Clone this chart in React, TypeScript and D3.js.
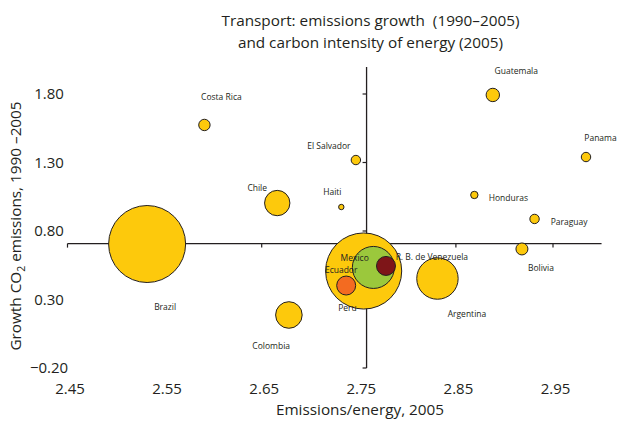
import React from "react";
import * as d3 from "d3";

const countries = ["Brazil", "Mexico", "Argentina", "R. B. de Venezuela", "Colombia", "Chile", "Ecuador", "Peru", "Guatemala", "Bolivia", "Costa Rica", "El Salvador", "Panama", "Paraguay", "Honduras", "Haiti"];
const intensity = [2.532, 2.755, 2.831, 2.765, 2.678, 2.666, 2.737, 2.778, 2.888, 2.918, 2.591, 2.747, 2.984, 2.931, 2.869, 2.732];
const growth = [0.705, 0.508, 0.453, 0.534, 0.187, 1.004, 0.402, 0.545, 1.793, 0.669, 1.574, 1.318, 1.34, 0.888, 1.063, 0.975];
const emissions = [130, 127, 37.6, 38.7, 15.5, 14.1, 7.9, 7.9, 3.94, 3.16, 2.85, 1.94, 1.94, 1.94, 1.2, 0.64];
const xTicks = [2.45, 2.55, 2.65, 2.75, 2.85, 2.95];
const yTicks = [1.8, 1.3, 0.8, 0.3, -0.2];
const crossX = 2.758;
const crossY = 0.708;

const fills: Record<string, string> = {
  "R. B. de Venezuela": "#9BC83C",
  Peru: "#7E1518",
  Ecuador: "#F36B21",
};
const yellow = "#FDC90C";

// label offsets in pixels relative to bubble centre (layout only)
const labelOffset: Record<string, [number, number]> = {
  Brazil: [18, 63],
  Mexico: [-9, -12.5],
  Argentina: [29.5, 35],
  "R. B. de Venezuela": [58.5, -10.5],
  Colombia: [-17.7, 31],
  Chile: [-20, -15],
  Ecuador: [-5, -16],
  Peru: [-38.5, 42],
  Guatemala: [23.5, -24],
  Bolivia: [19, 19],
  "Costa Rica": [17, -28],
  "El Salvador": [-27, -14],
  Panama: [14.5, -18.7],
  Paraguay: [34.5, 3.3],
  Honduras: [34, 2.7],
  Haiti: [-9, -15],
};

const W = 629;
const H = 422;
const font = "'Open Sans', 'Noto Sans', sans-serif";
const ink = "#231F20";

export default function App() {
  const x = d3.scaleLinear().domain([2.45, 2.95]).range([67.5, 553]);
  const y = d3.scaleLinear().domain([-0.2, 1.8]).range([368, 94]);
  const r = d3.scaleSqrt().domain([0, 130]).range([0, 38.5]);

  const idx = d3.range(countries.length).sort((a, b) => emissions[b] - emissions[a]);
  const xEnd = 3.0;
  const yTop = 1.997;

  return (
    <svg width={W} height={H} style={{ position: "absolute", left: 0, top: 0, background: "#fff" }} fontFamily={font}>
      <text x={370.5} y={26} textAnchor="middle" fontSize={15.3} fill={ink} style={{ whiteSpace: "pre" }}>
        Transport: emissions growth  (1990–2005)
      </text>
      <text x={370.5} y={48} textAnchor="middle" fontSize={15.3} fill={ink}>
        and carbon intensity of energy (2005)
      </text>

      {/* cross axes */}
      <line x1={x(2.45)} x2={x(xEnd)} y1={y(crossY)} y2={y(crossY)} stroke={ink} strokeWidth={1.3} />
      {xTicks.map((t) => (
        <line key={"xt" + t} x1={x(t)} x2={x(t)} y1={y(crossY)} y2={y(crossY) + 4} stroke={ink} strokeWidth={1.2} />
      ))}
      <line x1={x(crossX)} x2={x(crossX)} y1={y(yTop)} y2={y(-0.2)} stroke={ink} strokeWidth={1.3} />
      {yTicks.map((t) => (
        <line key={"yt" + t} x1={x(crossX) - 4} x2={x(crossX)} y1={y(t)} y2={y(t)} stroke={ink} strokeWidth={1.2} />
      ))}

      {/* tick labels */}
      {yTicks.map((t) => (
        <text key={"yl" + t} x={49} y={y(t)} dy="0.35em" textAnchor="middle" fontSize={15} fill={ink}>
          {t < 0 ? "−" + Math.abs(t).toFixed(2) : t.toFixed(2)}
        </text>
      ))}
      {xTicks.map((t) => (
        <text key={"xl" + t} x={x(t) + 2.5} y={388.5} dy="0.35em" textAnchor="middle" fontSize={15} fill={ink}>
          {t.toFixed(2)}
        </text>
      ))}
      <text x={360} y={410} dy="0.35em" textAnchor="middle" fontSize={15.3} fill={ink}>
        Emissions/energy, 2005
      </text>
      <text transform={`translate(16,${226}) rotate(-90)`} textAnchor="middle" dy="0.35em" fontSize={15.3} fill={ink}>
        Growth CO<tspan fontSize={10.5} dy="4">2</tspan>
        <tspan dy="-4"> emissions, 1990 –2005</tspan>
      </text>

      {/* bubbles */}
      {idx.map((i) => (
        <circle
          key={countries[i]}
          cx={x(intensity[i])}
          cy={y(growth[i])}
          r={r(emissions[i])}
          fill={fills[countries[i]] || yellow}
          stroke={ink}
          strokeWidth={1}
        />
      ))}

      {/* labels */}
      {countries.map((c, i) => (
        <text
          key={"lab" + c}
          x={x(intensity[i]) + labelOffset[c][0]}
          y={y(growth[i]) + labelOffset[c][1]}
          dy="0.35em"
          textAnchor="middle"
          fontSize={8.5}
          fill={ink}
        >
          {c}
        </text>
      ))}
    </svg>
  );
}
